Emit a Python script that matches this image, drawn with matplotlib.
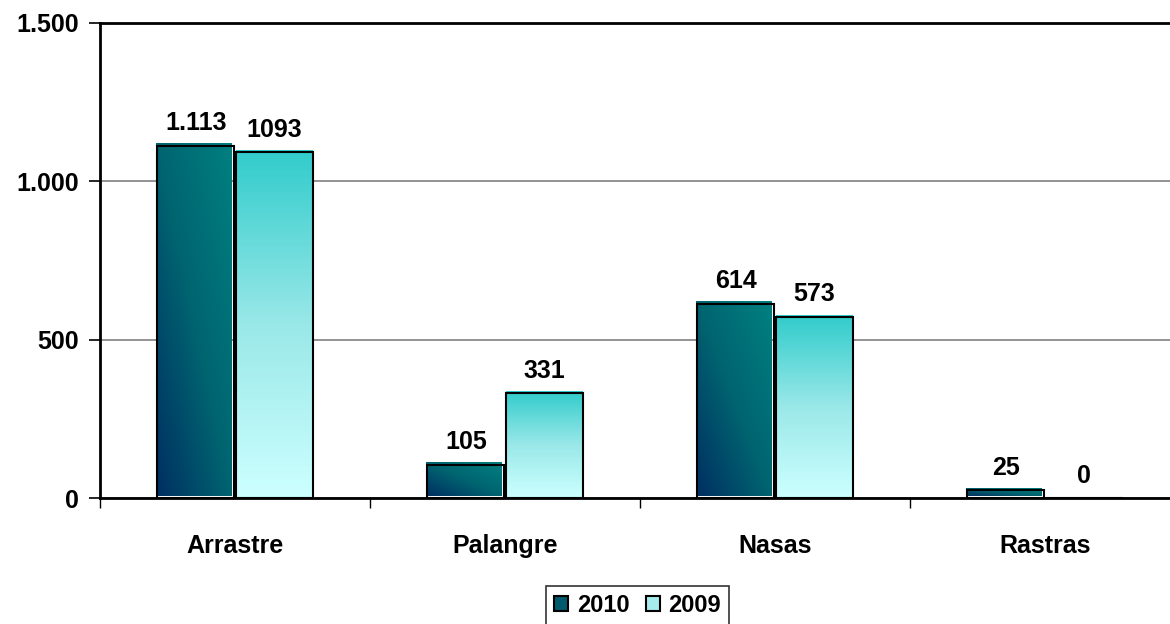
import numpy as np
import matplotlib
matplotlib.use("Agg")
import matplotlib.pyplot as plt
from matplotlib.colors import LinearSegmentedColormap
from matplotlib.patches import Rectangle

categories = ["Arrastre", "Palangre", "Nasas", "Rastras"]
values_2010 = [1113, 105, 614, 25]
values_2009 = [1093, 331, 573, 0]
labels_2010 = ["1.113", "105", "614", "25"]
labels_2009 = ["1093", "331", "573", "0"]
series_names = ["2010", "2009"]
y_ticks = [0, 500, 1000, 1500]
y_ticklabels = ["0", "500", "1.000", "1.500"]

plt.rcParams["font.family"] = ["Liberation Sans", "DejaVu Sans"]
plt.rcParams["font.weight"] = "bold"

cmap_2010 = LinearSegmentedColormap.from_list("c2010", ["#002f62", "#006470", "#008080"])
cmap_2009 = LinearSegmentedColormap.from_list("c2009", ["#ccffff", "#9ae8e8", "#33cccc"])


def gradient_2010(n=64):
    # diagonal: dark bottom-left -> teal top-right
    u = np.linspace(0, 1, n)[None, :]
    v = np.linspace(0, 1, n)[:, None]  # 0 at bottom (origin='lower')
    return (u + v) / 2


def gradient_2009(n=64):
    # vertical: light at the bottom, turquoise at the top
    v = np.linspace(0, 1, n)[:, None]
    return np.repeat(v, 2, axis=1)


fig = plt.figure(figsize=(11.7, 6.24), dpi=100)
ax = fig.add_axes([100 / 1170, 1 - 498 / 624, 1080 / 1170, 475 / 624])

x = np.arange(len(categories))
width = 0.285
offset = 0.145

bars_a = ax.bar(x - offset, values_2010, width, facecolor="none", edgecolor="black", lw=1.5, zorder=4)
bars_b = ax.bar(x + offset, values_2009, width, facecolor="none", edgecolor="black", lw=1.5, zorder=4)

for bar in bars_a:
    x0, w, h = bar.get_x(), bar.get_width(), bar.get_height()
    if h <= 0:
        continue
    # fill sits slightly up-left of its outline, like the shadowed original
    ax.imshow(gradient_2010(), cmap=cmap_2010, origin="lower", aspect="auto",
              extent=(x0 - 0.004, x0 + w - 0.01, 6, h + 6), zorder=3, interpolation="bilinear")
for bar in bars_b:
    x0, w, h = bar.get_x(), bar.get_width(), bar.get_height()
    if h <= 0:
        continue
    ax.imshow(gradient_2009(), cmap=cmap_2009, origin="lower", aspect="auto",
              extent=(x0, x0 + w, 0, h + 4), zorder=3, interpolation="bilinear")

for bars, labels in [(bars_a, labels_2010), (bars_b, labels_2009)]:
    for bar, lab in zip(bars, labels):
        ax.annotate(lab, (bar.get_x() + bar.get_width() / 2, bar.get_height()),
                    xytext=(0, 11), textcoords="offset points", ha="center", va="baseline",
                    fontsize=18, fontweight="bold", zorder=6)

ax.set_xlim(-0.5, len(categories) - 0.5)
ax.set_ylim(0, 1500)

ax.set_yticks(y_ticks)
ax.set_yticklabels(y_ticklabels, fontsize=18, fontweight="bold")
ax.tick_params(axis="y", direction="out", length=8, width=1.2, pad=7)

# category boundaries carry the tick marks, centres carry the labels
ax.set_xticks(np.arange(len(categories) + 1) - 0.5)
ax.set_xticklabels([])
ax.tick_params(axis="x", which="major", direction="out", length=7, width=1)
ax.set_xticks(x, minor=True)
ax.set_xticklabels(categories, minor=True, fontsize=18, fontweight="bold")
ax.tick_params(axis="x", which="minor", length=0, pad=26)

ax.yaxis.grid(True, color="#808080", lw=1.2, zorder=0)
ax.set_axisbelow(True)
for side in ["left", "bottom", "top"]:
    ax.spines[side].set_linewidth(2)
    ax.spines[side].set_color("black")
ax.spines["right"].set_visible(False)

handles = [Rectangle((0, 0), 1, 1, facecolor="#005a6e", edgecolor="black", lw=1.5),
           Rectangle((0, 0), 1, 1, facecolor="#a6ecec", edgecolor="black", lw=1.5)]
leg = fig.legend(handles, series_names, loc="upper center", bbox_to_anchor=(0.545, 1 - 586 / 624),
                 bbox_transform=fig.transFigure, ncol=2, frameon=True, fancybox=False,
                 prop={"size": 17, "weight": "bold"}, handlelength=0.6, handleheight=0.6,
                 handletextpad=0.35, columnspacing=0.7, borderpad=0.35, borderaxespad=0)
leg.get_frame().set_edgecolor("black")
leg.get_frame().set_linewidth(1.2)

fig.savefig("out.png", dpi=100)
